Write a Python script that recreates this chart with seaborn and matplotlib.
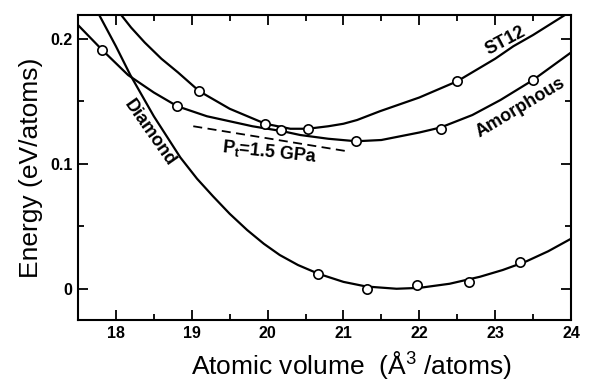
"""
Energy vs atomic volume for Si phases (diamond, ST12, amorphous)
"""
import matplotlib
matplotlib.use('Agg')
import matplotlib.pyplot as plt
from matplotlib.ticker import MultipleLocator
import seaborn as sns
import pandas as pd

# fitted E(V) curves
diamond_curve_x = [17.78, 18.0, 18.19, 18.5, 18.85, 19.07, 19.28, 19.5, 19.73, 19.95, 20.16,
                   20.4, 20.67, 21.0, 21.3, 21.7, 22.0, 22.4, 22.8, 23.1, 23.4, 23.7, 24.0]
diamond_curve_y = [0.219, 0.194, 0.171, 0.138, 0.105, 0.088, 0.074, 0.060, 0.047, 0.036, 0.027,
                   0.019, 0.012, 0.0055, 0.0018, 0.0, 0.0007, 0.004, 0.0096, 0.015, 0.0216, 0.030, 0.040]

amorph_curve_x = [17.5, 17.82, 18.16, 18.5, 18.81, 19.2, 19.5, 19.8, 20.2, 20.43,
                  20.8, 21.17, 21.5, 21.75, 22.0, 22.28, 22.7, 23.07, 23.5, 23.75, 24.0]
amorph_curve_y = [0.211, 0.191, 0.171, 0.157, 0.146, 0.138, 0.134, 0.130, 0.126, 0.123,
                  0.120, 0.118, 0.119, 0.122, 0.125, 0.129, 0.139, 0.151, 0.167, 0.178, 0.189]

st12_curve_x = [18.07, 18.2, 18.38, 18.6, 18.82, 19.10, 19.5, 19.97, 20.3, 20.53, 20.8, 21.0, 21.18,
                21.48, 22.0, 22.5, 23.0, 23.24, 23.5, 23.92]
st12_curve_y = [0.219, 0.209, 0.197, 0.184, 0.173, 0.158, 0.144, 0.132, 0.128, 0.128, 0.130, 0.132, 0.135,
                0.142, 0.153, 0.166, 0.184, 0.194, 0.203, 0.219]

# calculated points
diamond_pts_x = [20.67, 21.31, 21.97, 22.65, 23.33]
diamond_pts_y = [0.012, 0.000, 0.0032, 0.0056, 0.0216]

amorph_pts_x = [17.82, 18.81, 20.18, 21.17, 22.28, 23.50]
amorph_pts_y = [0.191, 0.146, 0.127, 0.118, 0.128, 0.167]

st12_pts_x = [19.10, 19.97, 20.53, 22.50]
st12_pts_y = [0.158, 0.132, 0.128, 0.166]

# common tangent
tangent_x = [19.02, 21.05]
tangent_y = [0.130, 0.110]

sns.set_style('ticks')
plt.rcParams['font.family'] = ['Liberation Sans', 'DejaVu Sans']
plt.rcParams['mathtext.fontset'] = 'custom'
plt.rcParams['mathtext.rm'] = 'Liberation Sans'
plt.rcParams['mathtext.bf'] = 'Liberation Sans:bold'
for key in ['text.color', 'axes.labelcolor', 'xtick.color', 'ytick.color', 'axes.edgecolor']:
    plt.rcParams[key] = 'black'

fig = plt.figure(figsize=(5.89, 3.81), dpi=100)
ax = fig.add_axes([0.1324, 0.1601, 0.8370, 0.8005])

lw = 1.6
for cx, cy in [(diamond_curve_x, diamond_curve_y),
               (amorph_curve_x, amorph_curve_y),
               (st12_curve_x, st12_curve_y)]:
    sns.lineplot(x=cx, y=cy, ax=ax, color='black', linewidth=lw, sort=False,
                 estimator=None, solid_joinstyle='round')

sns.lineplot(x=tangent_x, y=tangent_y, ax=ax, color='black', linewidth=1.3,
             linestyle=(0, (5, 3)), estimator=None)

pts = pd.DataFrame({
    'x': diamond_pts_x + amorph_pts_x + st12_pts_x,
    'y': diamond_pts_y + amorph_pts_y + st12_pts_y,
})
sns.scatterplot(data=pts, x='x', y='y', ax=ax, s=45, color='white',
                edgecolor='black', linewidth=1.2, zorder=5)

ax.set_xlim(17.5, 24)
ax.set_ylim(-0.025, 0.219)
ax.xaxis.set_major_locator(MultipleLocator(1))
ax.xaxis.set_minor_locator(MultipleLocator(0.5))
ax.yaxis.set_minor_locator(MultipleLocator(0.05))
ax.set_yticks([0, 0.1, 0.2])
ax.set_yticklabels(['0', '0.1', '0.2'])

ax.tick_params(which='both', direction='in', top=True, right=True, width=1.3)
ax.tick_params(which='major', length=7.5, labelsize=11.5, pad=4)
ax.tick_params(which='minor', length=4)
for lab in ax.get_xticklabels() + ax.get_yticklabels():
    lab.set_fontweight('bold')
for sp in ax.spines.values():
    sp.set_linewidth(1.5)

ax.set_xlabel('Atomic volume  (Å$^{3}$ /atoms)', fontsize=19)
ax.set_ylabel('Energy (eV/atoms)', fontsize=19, labelpad=5)
ax.xaxis.set_label_coords(0.554, -0.095)

ax.text(18.45, 0.125, 'Diamond', rotation=-55, fontsize=13, fontweight='bold',
        ha='center', va='center', rotation_mode='anchor')
ax.text(23.13, 0.198, 'ST12', rotation=28, fontsize=13, fontweight='bold',
        ha='center', va='center', rotation_mode='anchor')
ax.text(23.34, 0.145, 'Amorphous', rotation=31, fontsize=13, fontweight='bold',
        ha='center', va='center', rotation_mode='anchor')
ax.text(20.03, 0.109, r'P$_{\mathbf{t}}$=1.5 GPa', rotation=-6, fontsize=13,
        fontweight='bold', ha='center', va='center', rotation_mode='anchor')

fig.savefig('out.png', dpi=100)
